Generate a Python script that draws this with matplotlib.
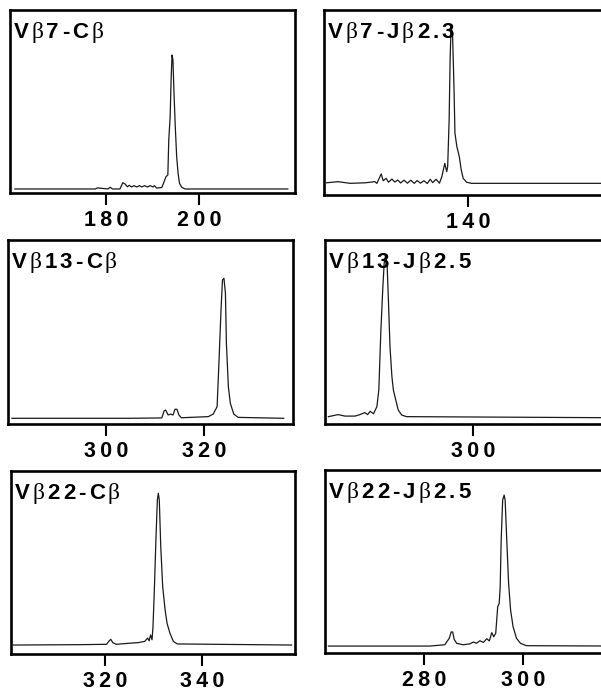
import matplotlib
matplotlib.use("Agg")
import matplotlib.pyplot as plt

plt.rcParams['font.family'] = ['Liberation Sans', 'DejaVu Sans']

# =============================================
# Trace data: fragment size (bp) vs. signal (% of panel height)
# =============================================

vb7_cb_bp = [160.4, 177.7, 178.2, 180.4, 180.9, 181.4, 183.0, 183.6, 184.1, 184.6,
             185.0, 185.5, 186.0, 186.6, 187.2, 187.7, 188.3, 188.9, 189.5, 190.1,
             190.4, 190.9, 192.0, 192.5, 192.9, 193.3, 193.5, 193.8, 194.0, 194.2,
             194.4, 194.6, 194.9, 195.2, 195.5, 195.8, 196.3, 197.0, 219.1]
vb7_cb_sig = [2.2, 2.2, 2.8, 2.2, 3.1, 2.2, 2.2, 5.6, 4.9, 3.4,
              4.2, 3.3, 4.0, 3.3, 4.0, 3.3, 4.0, 3.3, 4.0, 3.3,
              4.0, 2.7, 3.0, 6.2, 8.9, 9.8, 29.0, 41.7, 61.7, 75.4,
              72.7, 56.3, 36.2, 19.8, 10.8, 5.3, 3.1, 2.2, 2.2]

vb7_jb23_bp = [110.8, 113.2, 115.7, 118.8, 120.8, 121.2, 122.1, 122.5, 123.1, 123.6,
               124.3, 124.9, 125.5, 126.1, 126.8, 127.5, 128.2, 128.9, 129.5, 130.2,
               130.9, 131.6, 132.2, 132.7, 133.4, 134.1, 134.6, 134.9, 135.2, 135.6,
               135.8, 136.1, 136.3, 136.5, 136.8, 137.1, 137.3, 137.7, 138.2, 138.6,
               139.0, 139.7, 140.7, 170.3]
vb7_jb23_sig = [6.6, 7.2, 6.3, 6.6, 7.2, 6.3, 11.4, 7.7, 9.0, 6.9,
                8.6, 7.0, 8.1, 6.5, 8.0, 6.4, 8.0, 6.3, 7.8, 6.4,
                7.7, 6.2, 8.5, 6.7, 8.5, 6.4, 9.9, 13.5, 17.1, 12.6,
                15.3, 40.5, 73.0, 91.0, 87.4, 58.5, 33.4, 26.1, 20.7, 13.5,
                9.0, 6.9, 6.3, 6.3]

vb13_cb_bp = [280.8, 304.9, 311.4, 311.9, 312.2, 312.7, 313.2, 313.7, 314.1, 314.5,
              314.9, 315.4, 320.9, 321.9, 322.7, 323.1, 323.5, 323.8, 324.1, 324.4,
              324.6, 325.0, 325.4, 326.1, 327.0, 336.3]
vb13_cb_sig = [3.1, 3.1, 3.3, 7.2, 7.6, 4.9, 5.4, 4.9, 8.0, 8.0,
               4.9, 3.4, 4.0, 5.4, 9.4, 34.8, 62.0, 78.3, 79.2, 71.0,
               43.9, 20.3, 11.3, 5.4, 3.6, 3.1]

vb13_jb25_bp = [270.2, 272.2, 273.6, 275.7, 276.7, 277.7, 278.3, 278.8, 279.5, 280.2,
                280.6, 281.0, 281.4, 281.7, 282.0, 282.3, 282.6, 282.9, 283.3, 283.6,
                284.1, 284.6, 285.3, 286.3, 329.3]
vb13_jb25_sig = [4.0, 5.1, 4.3, 4.3, 5.1, 6.2, 5.1, 6.9, 5.6, 9.4,
                 18.5, 49.3, 72.8, 87.3, 91.8, 87.3, 65.6, 42.0, 25.7, 18.5,
                 13.0, 7.6, 4.9, 4.0, 3.4]

vb22_cb_bp = [301.1, 314.8, 320.3, 320.9, 321.2, 321.6, 322.3, 325.1, 326.8, 328.2,
              328.8, 329.1, 329.4, 329.7, 329.9, 330.2, 330.5, 330.8, 331.0, 331.2,
              331.5, 331.9, 332.4, 332.8, 333.4, 334.1, 334.9, 358.5]
vb22_cb_sig = [4.9, 5.1, 5.3, 7.3, 8.0, 6.2, 5.3, 5.9, 6.2, 6.9,
               8.7, 7.2, 10.4, 7.8, 14.9, 36.8, 62.3, 84.2, 87.8, 84.2,
               58.7, 36.8, 24.0, 16.8, 11.3, 6.9, 5.5, 4.9]

vb22_jb25_bp = [260.7, 281.2, 284.2, 285.1, 285.5, 285.8, 286.1, 286.6, 287.9, 289.3,
                290.0, 290.6, 291.3, 292.0, 292.7, 293.2, 293.7, 294.1, 294.5, 294.9,
                295.2, 295.4, 295.6, 295.9, 296.2, 296.4, 296.7, 297.1, 297.5, 298.0,
                298.7, 299.5, 300.7, 318.6]
vb22_jb25_sig = [3.8, 3.8, 4.5, 8.0, 11.5, 11.5, 7.5, 5.3, 4.5, 5.0,
                 6.0, 5.3, 6.7, 5.8, 7.8, 6.6, 11.1, 8.9, 10.8, 25.3,
                 27.1, 36.2, 61.7, 83.6, 86.3, 83.6, 63.6, 38.1, 23.5, 14.4,
                 8.0, 5.3, 4.0, 3.8]

# Panel titles and size-axis ticks
titles = ["Vβ7-Cβ", "Vβ7-Jβ2.3", "Vβ13-Cβ", "Vβ13-Jβ2.5", "Vβ22-Cβ", "Vβ22-Jβ2.5"]
ticks = [[180, 200], [140], [300, 320], [300], [320, 340], [280, 300]]

# =============================================
# Layout (pixels on a 601 x 693 canvas)
# =============================================
W, H = 601, 693
# (left, right, top, bottom) in px, and x-range in bp
panels = [
    ((10, 295, 10, 193), (159.35, 220.65), vb7_cb_bp, vb7_cb_sig),
    ((324, 615, 10, 195), (110.3, 170.3), vb7_jb23_bp, vb7_jb23_sig),
    ((8, 293, 240, 424), (280.0, 338.2), vb13_cb_bp, vb13_cb_sig),
    ((325, 615, 240, 424), (269.5, 329.3), vb13_jb25_bp, vb13_jb25_sig),
    ((11, 295, 471, 654), (300.6, 359.2), vb22_cb_bp, vb22_cb_sig),
    ((325, 615, 470, 653), (260.0, 318.6), vb22_jb25_bp, vb22_jb25_sig),
]


def spaced_title(ax, text, size=16, gap=2.2):
    """Write a letter-spaced label; beta in a light serif, the rest bold."""
    prev = None
    for ch in text:
        kw = dict(fontsize=size, ha='left', color='black')
        if ch == 'β':
            kw.update(family=['Liberation Serif', 'DejaVu Serif'],
                      fontweight='normal', fontsize=size + 1)
        else:
            kw.update(fontweight='bold')
        if prev is None:
            prev = ax.annotate(ch, xy=(0, 1), xycoords='axes fraction',
                               xytext=(2.5, -20.5), textcoords='offset points',
                               va='baseline', **kw)
        else:
            prev = ax.annotate(ch, xy=(1, 0), xycoords=prev,
                               xytext=(gap, 0), textcoords='offset points',
                               va='bottom', **kw)


fig = plt.figure(figsize=(W / 100, H / 100), dpi=100)

for (box, xlim, bp, sig), title, tk in zip(panels, titles, ticks):
    left, right, top, bottom = box
    ax = fig.add_axes([left / W, 1 - bottom / H, (right - left) / W, (bottom - top) / H])
    ax.plot(bp, sig, color='#1a1a1a', linewidth=0.9)
    ax.set_xlim(*xlim)
    ax.set_ylim(0, 100)

    for s in ax.spines.values():
        s.set_linewidth(1.9)
    ax.set_yticks([])
    ax.set_xticks(tk, labels=['\u2009'.join(str(t)) for t in tk])
    ax.tick_params(axis='x', direction='out', length=8.5, width=1.5, pad=4,
                   labelsize=15.5)
    for lbl in ax.get_xticklabels():
        lbl.set_fontweight('bold')

    spaced_title(ax, title)

fig.savefig("out.png", dpi=100)
